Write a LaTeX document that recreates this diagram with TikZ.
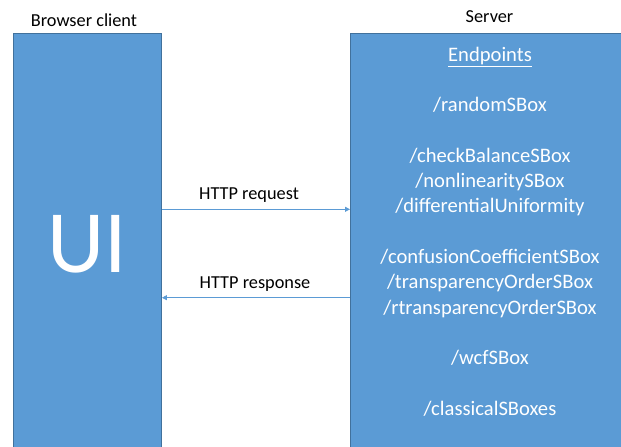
\documentclass[tikz,border=0pt]{standalone}
\usepackage{fontspec}
\setmainfont{Carlito}
\usetikzlibrary{arrows.meta}
\definecolor{boxfill}{HTML}{5B9BD5}
\definecolor{boxline}{HTML}{41719C}
\begin{document}
\begin{tikzpicture}[x=1pt,y=-1pt,
  panel/.style={draw=boxline, line width=0.9pt, fill=boxfill, inner sep=0pt, anchor=north west},
  caption/.style={font=\fontsize{18.3}{22}\selectfont, text=black, inner sep=0pt},
  msg/.style={draw=boxfill, line width=0.8pt, -{Triangle[length=5pt,width=5pt]}},
  endpt/.style={font=\fontsize{20.6}{25.3}\selectfont, text=white, align=center, inner sep=0pt}]
\clip (0,0) rectangle (621,447);
\fill[white] (0,0) rectangle (621,447);
\node[panel, minimum width=148pt, minimum height=430pt] (client) at (13,32.5) {};
\node[panel, minimum width=290pt, minimum height=430pt] (server) at (350,32.5) {};
\node[caption] (clientlbl) at (84,20) {Browser client};
\node[caption] (serverlbl) at (489.5,17) {Server};
\node[font=\fontsize{89}{100}\selectfont, text=white, inner sep=0pt] (ui) at (87,244) {UI};
\node[endpt] (list) at (490,231.5) {\underline{Endpoints}\\[0pt] \strut\\ /randomSBox\\ \strut\\ /checkBalanceSBox\\ /nonlinearitySBox\\ /differentialUniformity\\ \strut\\ /confusionCoefficientSBox\\ /transparencyOrderSBox\\ /rtransparencyOrderSBox\\ \strut\\ /wcfSBox\\ \strut\\ /classicalSBoxes};
\coordinate (reqy) at (0,209.3);
\coordinate (resy) at (0,297.7);
\draw[msg] (client.east |- reqy) -- (server.west |- reqy);
\draw[msg] (server.west |- resy) -- (client.east |- resy);
\node[caption] (reqlbl) at (249,195.5) {HTTP request};
\node[caption] (reslbl) at (255,284) {HTTP response};
\end{tikzpicture}
\end{document}
